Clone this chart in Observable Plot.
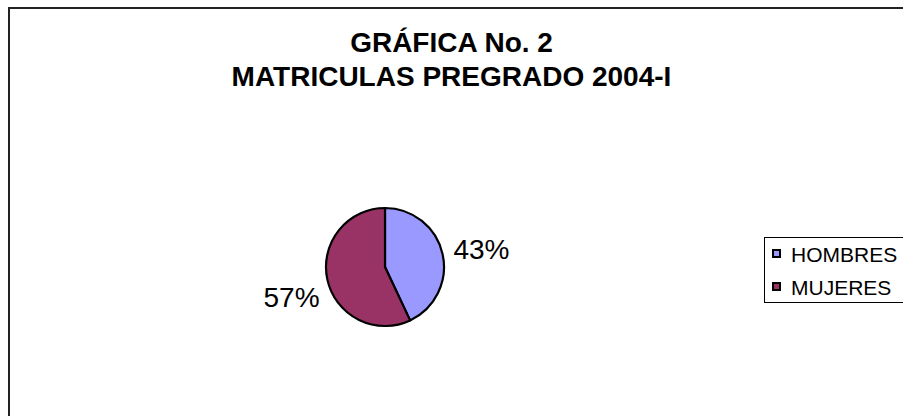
<!DOCTYPE html>
<html><head><meta charset="utf-8">
<script src="https://cdn.jsdelivr.net/npm/d3@7"></script>
<script src="https://cdn.jsdelivr.net/npm/@observablehq/plot@0.6"></script>
<style>
html,body{margin:0;padding:0;background:#fff;overflow:hidden;}
#wrap{position:relative;width:903px;height:416px;overflow:hidden;font-family:"Liberation Sans",Arial,sans-serif;color:#000;}
#frame{position:absolute;left:8px;top:7px;width:1200px;height:1200px;border-top:2px solid #222;border-left:2px solid #222;box-sizing:border-box;}
#title{position:absolute;left:0;width:903px;top:26px;text-align:center;font-weight:bold;font-size:28px;line-height:34px;}
#plot{position:absolute;left:0;top:0;}
#legend{position:absolute;left:764px;top:237px;width:200px;height:64px;border:1px solid #000;background:#fff;font-size:21px;}
#legend .row{height:33px;line-height:33px;white-space:nowrap;}
#legend .sw{display:inline-block;width:5px;height:5px;border:2px solid #000;margin-left:7px;margin-right:10px;margin-bottom:4px;vertical-align:baseline;}
</style>
</head><body>
<div id="wrap">
  <div id="frame"></div>
  <div id="plot"></div>
  <div id="title">GRÁFICA No. 2<br>MATRICULAS PREGRADO 2004-I</div>
  <div id="legend"></div>
</div>
<script>
// Data
const categories = ["HOMBRES", "MUJERES"];
const values = [43, 57];
const colors = ["#9999FF", "#993366"];

const rows = categories.map((c, i) => ({cat: c, value: values[i]}));
const total = d3.sum(values);
const color = d3.scaleOrdinal(categories, colors);
const arcs = d3.pie().sort(null).value(d => d.value)(rows);
const fmt = d3.format(".0%");

const cx = 385, cy = 267, r = 59;
const labelR = 1.18;
const labels = arcs.map(a => {
  const mid = (a.startAngle + a.endAngle) / 2;
  return {
    label: fmt(a.data.value / total),
    x: labelR * Math.sin(mid),
    y: labelR * Math.cos(mid),
    side: Math.sin(mid) >= 0 ? "right" : "left"
  };
});

function pieMark(index, scales) {
  const px = scales && scales.x ? scales.x : (v => cx + v * r);
  const py = scales && scales.y ? scales.y : (v => cy - v * r);
  const ox = px(0), oy = py(0), rad = px(1) - px(0);
  const arc = d3.arc().innerRadius(0).outerRadius(rad);
  const g = d3.create("svg:g").attr("transform", `translate(${ox},${oy})`);
  g.selectAll("path").data(arcs).join("path")
    .attr("d", arc)
    .attr("fill", d => color(d.data.cat))
    .attr("stroke", "#000")
    .attr("stroke-width", 2.2)
    .attr("stroke-linejoin", "round");
  return g.node();
}

const chart = Plot.plot({
  width: 903,
  height: 416,
  margin: 0,
  style: {background: "transparent", fontFamily: "'Liberation Sans', Arial, sans-serif", overflow: "visible"},
  x: {domain: [-1, 1], range: [cx - r, cx + r], axis: null},
  y: {domain: [-1, 1], range: [cy + r, cy - r], axis: null},
  marks: [
    pieMark,
    Plot.text(labels.filter(d => d.side === "right"), {x: "x", y: "y", text: "label", textAnchor: "start", dy: -2, fontSize: 28, fill: "#000"}),
    Plot.text(labels.filter(d => d.side === "left"), {x: "x", y: "y", text: "label", textAnchor: "end", dx: 2, dy: 15, fontSize: 28, fill: "#000"})
  ]
});
document.getElementById("plot").appendChild(chart);

const legend = d3.select("#legend");
categories.forEach((c, i) => {
  const row = legend.append("div").attr("class", "row");
  row.append("span").attr("class", "sw").style("background", colors[i]);
  row.append("span").text(c);
});
</script>
</body></html>
